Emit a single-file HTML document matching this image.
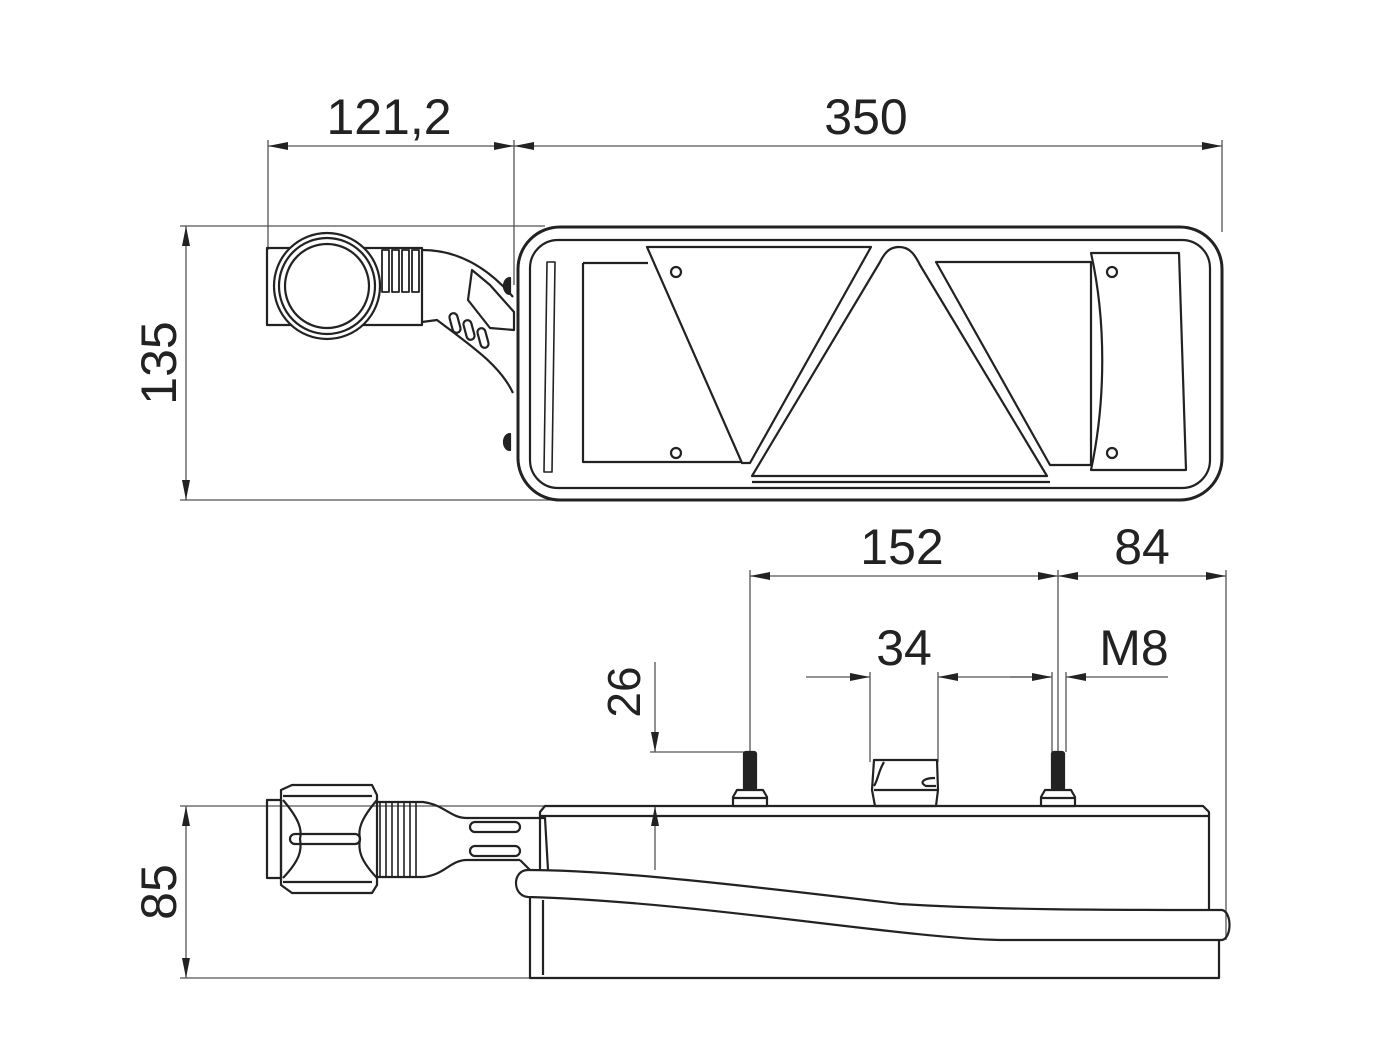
<!DOCTYPE html>
<html><head><meta charset="utf-8"><style>
html,body{margin:0;padding:0;background:#fff;}
svg{display:block}
text{font-family:"Liberation Sans",sans-serif;font-size:50px;fill:#222;transform-origin:0 0}
</style></head><body>
<svg width="1382" height="1040" viewBox="0 0 1382 1040" xmlns="http://www.w3.org/2000/svg">
<defs>
<marker id="a" viewBox="0 0 20 8" refX="20" refY="4" markerWidth="20" markerHeight="8" markerUnits="userSpaceOnUse" orient="auto-start-reverse"><path d="M0,0 L20,4 L0,8 z" fill="#222"/></marker>
</defs>
<g stroke="#555" stroke-width="1.3" fill="none">
<!-- top dims -->
<line x1="268" y1="140" x2="268" y2="250"/>
<line x1="514" y1="140" x2="514" y2="285"/>
<line x1="1222" y1="140" x2="1222" y2="232"/>
<line x1="268" y1="146" x2="514" y2="146" marker-start="url(#a)" marker-end="url(#a)"/>
<line x1="514" y1="146" x2="1222" y2="146" marker-start="url(#a)" marker-end="url(#a)"/>
<line x1="180" y1="226" x2="545" y2="226"/>
<line x1="180" y1="500" x2="560" y2="500"/>
<line x1="186" y1="226" x2="186" y2="500" marker-start="url(#a)" marker-end="url(#a)"/>
<!-- bottom dims -->
<line x1="750" y1="570" x2="750" y2="752"/>
<line x1="1058" y1="570" x2="1058" y2="752"/>
<line x1="1226" y1="570" x2="1226" y2="940"/>
<line x1="750" y1="576" x2="1058" y2="576" marker-start="url(#a)" marker-end="url(#a)"/>
<line x1="1058" y1="576" x2="1226" y2="576" marker-start="url(#a)" marker-end="url(#a)"/>
<line x1="870" y1="672" x2="870" y2="762"/>
<line x1="938" y1="672" x2="938" y2="762"/>
<line x1="806" y1="677" x2="870" y2="677" marker-end="url(#a)"/>
<line x1="1050" y1="677" x2="938" y2="677" marker-end="url(#a)"/>
<line x1="1052" y1="672" x2="1052" y2="752"/>
<line x1="1066" y1="672" x2="1066" y2="752"/>
<line x1="1010" y1="677" x2="1052" y2="677" marker-end="url(#a)"/>
<line x1="1168" y1="677" x2="1066" y2="677" marker-end="url(#a)"/>
<line x1="650" y1="752" x2="745" y2="752"/>
<line x1="655" y1="662" x2="655" y2="752" marker-end="url(#a)"/>
<line x1="655" y1="870" x2="655" y2="806" marker-end="url(#a)"/>
<line x1="180" y1="806" x2="545" y2="806"/>
<line x1="180" y1="978" x2="540" y2="978"/>
<line x1="186" y1="806" x2="186" y2="978" marker-start="url(#a)" marker-end="url(#a)"/>
</g>
<text x="389" y="134" text-anchor="middle">121,2</text>
<text x="866" y="134" text-anchor="middle">350</text>
<text x="902" y="564" text-anchor="middle">152</text>
<text x="1142" y="564" text-anchor="middle">84</text>
<text x="904" y="665" text-anchor="middle">34</text>
<text x="1134" y="665" text-anchor="middle">M8</text>
<text transform="translate(176,363) rotate(-90)" text-anchor="middle">135</text>
<text transform="translate(176,892) rotate(-90)" text-anchor="middle">85</text>
<text transform="translate(640,692) rotate(-90)" text-anchor="middle" style="font-size:46px">26</text>

<g stroke="#222" stroke-width="2.2" fill="none" stroke-linejoin="round">
<!-- top view bracket -->
<rect x="267" y="248" width="155" height="77"/>
<circle cx="327" cy="286" r="53" fill="#fff"/>
<circle cx="327" cy="286" r="48"/>
<circle cx="327" cy="286" r="42"/>
<g stroke-width="1.8"><rect x="382" y="250" width="7" height="42"/><rect x="392" y="250" width="7" height="42"/><rect x="402" y="250" width="7" height="42"/><rect x="412" y="250" width="7" height="42"/></g>
<path d="M422,250 C460,250 490,270 513,297"/>
<path d="M422,322 L437,320 C470,345 500,365 513,393"/>
<path d="M472,270 L468,300 L490,328 L514,330 L514,312 L490,285 z"/>
<rect x="451" y="313" width="8" height="20" rx="4" transform="rotate(-15 455 323)"/>
<rect x="465" y="320" width="8" height="20" rx="4" transform="rotate(-15 469 330)"/>
<rect x="479" y="328" width="8" height="20" rx="4" transform="rotate(-15 483 338)"/>
<path d="M510,278 a6,8 0 0 0 0,16 z M510,434 a6,8 0 0 0 0,16 z" fill="#222"/>
<!-- lamp body -->
<rect x="518" y="227" width="704" height="273" rx="42" stroke-width="3"/>
<rect x="530" y="240" width="680" height="248" rx="28"/>
<path d="M547,262 l8,0 l-3,210 l-8,0 z" stroke-width="1.6"/>
<path d="M583,263 L648,263 M583,263 L583,462 L742,462"/>
<path d="M647,247 L871,247 L750,463 L742,463 z"/>
<path d="M899,247 C910,247 915,255 920,265 L1047,476 L752,476 L880,262 C885,252 890,247 899,247 z"/>
<path d="M899,252 L760,478 M899,252 L1040,478" stroke-width="0" />
<path d="M752,482 L1050,482"/>
<path d="M936,262 L1091,262 L1091,465 L1050,465 z"/>
<path d="M1091,253 L1179,253 L1186,470 L1091,470 C1106,400 1106,320 1091,253 z"/>
<g fill="#fff"><circle cx="676" cy="272" r="5"/><circle cx="676" cy="453" r="5"/><circle cx="1112" cy="272" r="5"/><circle cx="1112" cy="453" r="5"/></g>

<!-- bottom view connector -->
<rect x="267" y="800" width="14" height="78"/>
<path d="M281,790 L292,785 L372,785 L377,795 L377,885 L372,893 L292,893 L281,885 z"/>
<path d="M283,796 L372,796 M283,882 L372,882"/>
<path d="M283,800 C300,820 302,830 300,839 C302,850 300,860 283,878"/>
<path d="M377,800 C360,820 358,830 360,839 C358,850 360,860 377,878"/>
<rect x="290" y="834" width="70" height="10" rx="5"/>
<g stroke-width="1.6"><path d="M380,802 V877 M386,802 V877 M392,802 V877 M398,802 V877 M404,802 V877 M410,802 V877 M416,802 V877"/></g>
<path d="M377,802 L423,802 C445,805 450,818 467,818 L520,818 M377,877 L423,877 C445,875 450,860 467,860 L520,860"/>
<rect x="470" y="822" width="50" height="10" rx="5"/>
<rect x="470" y="846" width="50" height="10" rx="5"/>
<path d="M520,818 L545,818 L548,870 M520,860 L530,870"/>
<!-- body -->
<path d="M540,870 L540,812 L545,806 L1203,806 L1209,812 L1209,910"/>
<path d="M540,816 L1209,816"/>
<path d="M530,897 L530,978 L1219,978 L1219,940"/>
<path d="M543,900 L543,975"/>
<path d="M528,870 C600,870 700,880 900,904 C1000,910 1100,910 1222,910 C1232,912 1232,938 1222,940 L1000,940 C900,938 700,902 528,897 C512,896 512,870 528,870 z"/>
<!-- studs -->
<rect x="744" y="752" width="12" height="38" rx="2" fill="#222"/>
<path d="M737,790 L763,790 L767,797 L767,806 L733,806 L733,797 z" fill="#fff"/>
<path d="M733,798 L767,798"/>
<rect x="1052" y="752" width="12" height="38" rx="2" fill="#222"/>
<path d="M1045,790 L1071,790 L1075,797 L1075,806 L1041,806 L1041,797 z" fill="#fff"/>
<path d="M1041,798 L1075,798"/>
<path d="M874,760 L937,760 L938,790 L936,806 L875,806 L872,790 z"/>
<path d="M874,790 L937,790"/>
<path d="M884,762 C878,772 878,780 874,786 M935,778 C925,778 918,782 926,786 L936,786"/>
</g>
</svg>
</body></html>
